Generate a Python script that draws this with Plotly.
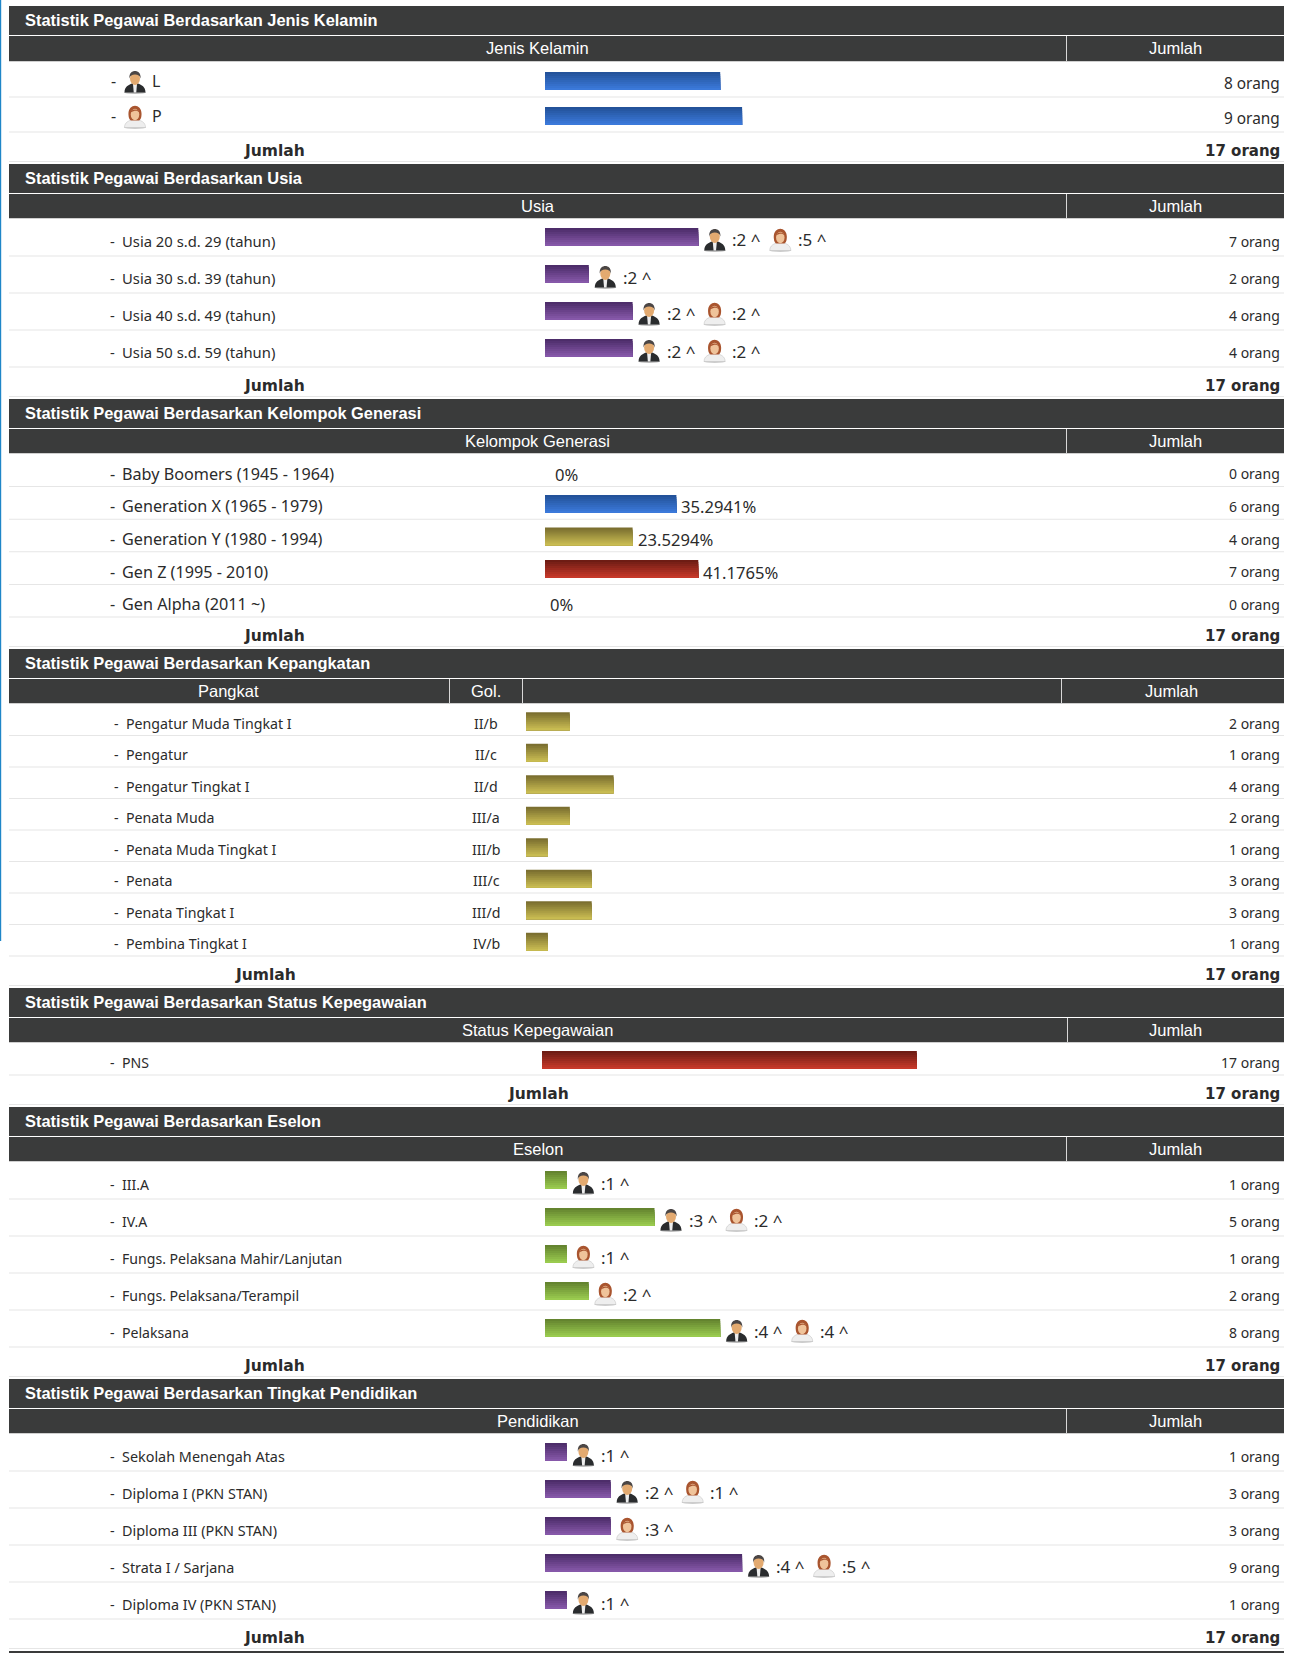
import base64
import plotly.graph_objects as go

W = 1289
H = 1653

# values
kelamin_labels = ["L", "P"]
kelamin_counts = [8, 9]

usia_labels = ["Usia 20 s.d. 29 (tahun)", "Usia 30 s.d. 39 (tahun)", "Usia 40 s.d. 49 (tahun)", "Usia 50 s.d. 59 (tahun)"]
usia_counts = [7, 2, 4, 4]
usia_male = [2, 2, 2, 2]
usia_female = [5, 0, 2, 2]

generasi_labels = ["Baby Boomers (1945 - 1964)", "Generation X (1965 - 1979)", "Generation Y (1980 - 1994)", "Gen Z (1995 - 2010)", "Gen Alpha (2011 ~)"]
generasi_counts = [0, 6, 4, 7, 0]
generasi_percent = ["0%", "35.2941%", "23.5294%", "41.1765%", "0%"]

pangkat_labels = ["Pengatur Muda Tingkat I", "Pengatur", "Pengatur Tingkat I", "Penata Muda", "Penata Muda Tingkat I", "Penata", "Penata Tingkat I", "Pembina Tingkat I"]
pangkat_gol = ["II/b", "II/c", "II/d", "III/a", "III/b", "III/c", "III/d", "IV/b"]
pangkat_counts = [2, 1, 4, 2, 1, 3, 3, 1]

status_labels = ["PNS"]
status_counts = [17]

eselon_labels = ["III.A", "IV.A", "Fungs. Pelaksana Mahir/Lanjutan", "Fungs. Pelaksana/Terampil", "Pelaksana"]
eselon_counts = [1, 5, 1, 2, 8]
eselon_male = [1, 3, 0, 0, 4]
eselon_female = [0, 2, 1, 2, 4]

pendidikan_labels = ["Sekolah Menengah Atas", "Diploma I (PKN STAN)", "Diploma III (PKN STAN)", "Strata I / Sarjana", "Diploma IV (PKN STAN)"]
pendidikan_counts = [1, 3, 3, 9, 1]
pendidikan_male = [1, 2, 0, 4, 1]
pendidikan_female = [0, 1, 3, 5, 0]

total_text = "17 orang"

# page geometry
RIGHT = 1284
PX_PER_ORANG = 21.9
DARK = "#3a3b3b"
TEXT = "#2b2b2b"
BODY_FONT = "Noto Sans"
BLUE = ("#23529a", "#3b79da")
PURPLE = ("#4d2d6a", "#8658a9")
GOLD = ("#7b6f30", "#c9bc52")
RED = ("#6e1c14", "#c6392a")
GREEN = ("#64842f", "#9acb4f")

sections = [
    dict(title="Statistik Pegawai Berdasarkan Jenis Kelamin", head="Jenis Kelamin", top=6, rows_top=62, row_h=35, labels=kelamin_labels,
         counts=kelamin_counts, colors=[BLUE], x0=545, shift=1.5, label_size=16, value_size=15.4, value_dy=4, total_x=274),
    dict(title="Statistik Pegawai Berdasarkan Usia", head="Usia", top=164, rows_top=219, row_h=37, labels=usia_labels,
         counts=usia_counts, male=usia_male, female=usia_female, colors=[PURPLE], x0=545, shift=-0.5, label_size=14.8, total_x=274),
    dict(title="Statistik Pegawai Berdasarkan Kelompok Generasi", head="Kelompok Generasi", top=399, rows_top=454, row_h=32.6, labels=generasi_labels,
         counts=generasi_counts, percent=generasi_percent, colors=[BLUE, BLUE, GOLD, RED, RED], x0=545, shift=1, label_size=16.2, total_x=274),
    dict(title="Statistik Pegawai Berdasarkan Kepangkatan", head="Pangkat", top=649, rows_top=704, row_h=31.5, labels=pangkat_labels,
         counts=pangkat_counts, gol=pangkat_gol, colors=[GOLD], x0=526, shift=1.5, label_size=14.2, total_x=265, hyphen_x=112.5, label_x=124.5,
         divider=1061, head_x=229, jumlah_x=1171),
    dict(title="Statistik Pegawai Berdasarkan Status Kepegawaian", head="Status Kepegawaian", top=988, rows_top=1043, row_h=32, labels=status_labels,
         counts=status_counts, colors=[RED], x0=542, shift=1, label_size=14.1, total_x=538, divider=1067, px=22.05),
    dict(title="Statistik Pegawai Berdasarkan Eselon", head="Eselon", top=1107, rows_top=1162, row_h=37, labels=eselon_labels,
         counts=eselon_counts, male=eselon_male, female=eselon_female, colors=[GREEN], x0=545, shift=-0.5, label_size=14.1, total_x=274),
    dict(title="Statistik Pegawai Berdasarkan Tingkat Pendidikan", head="Pendidikan", top=1379, rows_top=1434, row_h=37, labels=pendidikan_labels,
         counts=pendidikan_counts, male=pendidikan_male, female=pendidikan_female, colors=[PURPLE], x0=545, shift=-0.5, label_size=14.4, total_x=274),
]

MAN_SVG = """<svg xmlns="http://www.w3.org/2000/svg" viewBox="0 0 48 48">
<ellipse cx="24" cy="45" rx="22" ry="3" fill="#bbbbbb"/>
<path d="M3 45 C3 33 11 30 18 27 L30 27 C37 30 45 33 45 45 Z" fill="#2a2c2e"/>
<path d="M20 28 L28 28 L26.5 45 L21.5 45 Z" fill="#eeeeee"/>
<ellipse cx="24" cy="17" rx="10" ry="13" fill="#e3aa70"/>
<path d="M13 17 C10 -3 38 -3 35 17 C34 11 30 9 24 9 C18 9 14 11 13 17 Z" fill="#4b4645"/>
</svg>"""

WOMAN_SVG = """<svg xmlns="http://www.w3.org/2000/svg" viewBox="0 0 48 48">
<ellipse cx="24" cy="45" rx="22" ry="3" fill="#cccccc"/>
<path d="M3 45 C3 34 12 32 18 29 L30 29 C36 32 45 34 45 45 Z" fill="#eeeeee" stroke="#bdbdbd"/>
<path d="M11 20 C9 -5 39 -5 37 20 C37 27 34 31 31 31 L17 31 C14 31 11 27 11 20 Z" fill="#a9552f"/>
<ellipse cx="24" cy="19" rx="8.5" ry="11.5" fill="#efc39a"/>
<path d="M15 15 C17 7 31 7 33 15 C28 10 23 11 15 15 Z" fill="#a9552f"/>
</svg>"""


def svg_uri(svg):
    return "data:image/svg+xml;base64," + base64.b64encode(svg.encode()).decode()


MAN = svg_uri(MAN_SVG)
WOMAN = svg_uri(WOMAN_SVG)

fig = go.Figure()
shapes = []
annotations = []
images = []


def rect(x0, y0, x1, y1, color):
    shapes.append(dict(type="rect", xref="paper", yref="paper", x0=x0 / W, x1=x1 / W, y0=1 - y0 / H, y1=1 - y1 / H,
                       fillcolor=color, line=dict(width=0), layer="below"))


def text(x, y, s, size=14, anchor="left", family=BODY_FONT, color=TEXT, weight="normal"):
    annotations.append(dict(xref="paper", yref="paper", x=x / W, y=1 - y / H, text=s, showarrow=False, xanchor=anchor, yanchor="middle",
                            align=anchor, borderpad=0, font=dict(size=size, family=family, color=color, weight=weight)))


def icon(src, x, y):
    images.append(dict(source=src, xref="paper", yref="paper", x=x / W, y=1 - y / H, sizex=24 / W, sizey=24 / H,
                       sizing="stretch", xanchor="left", yanchor="top", layer="above"))


def hex_mix(pair, t):
    a = [int(pair[0][i:i + 2], 16) for i in (1, 3, 5)]
    b = [int(pair[1][i:i + 2], 16) for i in (1, 3, 5)]
    return "rgb({},{},{})".format(*[round(p + (q - p) * t) for p, q in zip(a, b)])


STRIPS = 9
BAR_H = 18
rect(0, 0, 1.2, 941, "#1f86c8")
rect(9, 1651, RIGHT, 1653, DARK)

for idx, sec in enumerate(sections, start=1):
    top = sec["top"]
    rows_top = sec["rows_top"]
    row_h = sec["row_h"]
    labels = sec["labels"]
    n = len(labels)
    rows_bottom = rows_top + n * row_h
    total_bottom = rows_bottom + 29.5
    divider = sec.get("divider", 1066)
    px = sec.get("px", PX_PER_ORANG)

    # title bar and column heads
    rect(9, top, RIGHT, top + 29, DARK)
    rect(9, top + 30, RIGHT, rows_top - 1, DARK)
    rect(9, rows_top - 1, RIGHT, rows_top, "#cfcfcf")
    rect(divider, top + 30, divider + 1, rows_top - 1, "#d8d8d8")
    text(24, top + 14, sec["title"], size=16.4, family="Liberation Sans", color="#ffffff", weight="bold")
    head_y = top + 30 + (rows_top - top - 31) / 2
    text(sec.get("head_x", 537.5), head_y, sec["head"], size=16.5, anchor="center", family="Liberation Sans", color="#ffffff")
    text(sec.get("jumlah_x", 1175), head_y, "Jumlah", size=16.5, anchor="center", family="Liberation Sans", color="#ffffff")
    if "gol" in sec:
        rect(449, top + 30, 450, rows_top - 1, "#d8d8d8")
        rect(522, top + 30, 523, rows_top - 1, "#d8d8d8")
        text(486, head_y, "Gol.", size=16.5, anchor="center", family="Liberation Sans", color="#ffffff")

    # row text, separators, icons
    for i, label in enumerate(labels):
        line_y = rows_top + (i + 1) * row_h
        rect(9, line_y - 0.5, RIGHT, line_y + 0.5, "#e6e6e6")
        mid = rows_top + (i + 0.5) * row_h
        size = sec["label_size"]
        text(1281, mid + sec.get("value_dy", 3.5), "{} orang".format(sec["counts"][i]), size=sec.get("value_size", 14), anchor="right")
        bar_end = sec["x0"] + sec["counts"][i] * px
        if sec["labels"] is kelamin_labels:
            text(109.5, mid + 1.5, "-", size=16)
            icon(MAN if label == "L" else WOMAN, 123, mid - 9.5)
            text(150.5, mid + 1.5, label, size=16)
        else:
            text(sec.get("hyphen_x", 109), mid + 3.5, "-", size=size)
            text(sec.get("label_x", 121), mid + 3.5, label, size=size)
        if "gol" in sec:
            text(486, mid + 3.5, sec["gol"][i], size=14.2, anchor="center")
        if "percent" in sec:
            if sec["counts"][i] == 0:
                pct_x = 554 if i == 0 else 549
            else:
                pct_x = bar_end + 4
            text(pct_x, mid + 4, sec["percent"][i], size=16.6)
        if "male" in sec:
            x = bar_end + 4.5
            y = mid - 9.5
            for src, value in ((MAN, sec["male"][i]), (WOMAN, sec["female"][i])):
                if value:
                    icon(src, x, y)
                    text(x + 28.5, mid + 2.5, ":{} ^".format(value), size=17)
                    x += 65.5

    # total row
    rect(9, total_bottom - 0.5, RIGHT, total_bottom + 0.5, "#e6e6e6")
    total_mid = rows_bottom + 15 + 4
    text(sec["total_x"], total_mid, "Jumlah", size=15.5, anchor="center", family="DejaVu Sans", weight="bold")
    text(1281, total_mid, total_text, size=15, anchor="right", family="DejaVu Sans", weight="bold")

    # bars: stacked strips so each one fades from top to bottom
    x_name = "x{}".format(idx)
    y_name = "y{}".format(idx)
    colors = sec["colors"]
    for k in range(STRIPS):
        t = k / (STRIPS - 1)
        strip_top = -BAR_H / 2 + sec["shift"] + k * BAR_H / STRIPS
        strip_h = BAR_H * (STRIPS - k) / STRIPS
        fill = [hex_mix(colors[i % len(colors)], t) for i in range(n)]
        fig.add_trace(go.Bar(x=sec["counts"], y=labels, orientation="h", xaxis=x_name, yaxis=y_name, showlegend=False,
                             marker=dict(color=fill, line=dict(width=0)), width=strip_h / row_h, offset=strip_top / row_h,
                             hoverinfo="x+y"))
    x_start = -sec["x0"] / px
    x_stop = (W - sec["x0"]) / px
    fig.update_layout(**{
        "xaxis{}".format(idx): dict(domain=[0, 1], range=[x_start, x_stop], visible=False, anchor=y_name, fixedrange=True),
        "yaxis{}".format(idx): dict(domain=[1 - rows_bottom / H, 1 - rows_top / H], type="category", categoryorder="array", categoryarray=labels,
                                    range=[n - 0.5, -0.5], visible=False, anchor=x_name, fixedrange=True),
    })

fig.update_layout(
    width=W,
    height=H,
    margin=dict(l=0, r=0, t=0, b=0),
    paper_bgcolor="#ffffff",
    plot_bgcolor="rgba(0,0,0,0)",
    barmode="overlay",
    shapes=shapes,
    annotations=annotations,
    images=images,
)
fig.write_html("out.html", post_script="document.body.style.margin='0';document.body.style.overflow='hidden';", config=dict(displayModeBar=False))
